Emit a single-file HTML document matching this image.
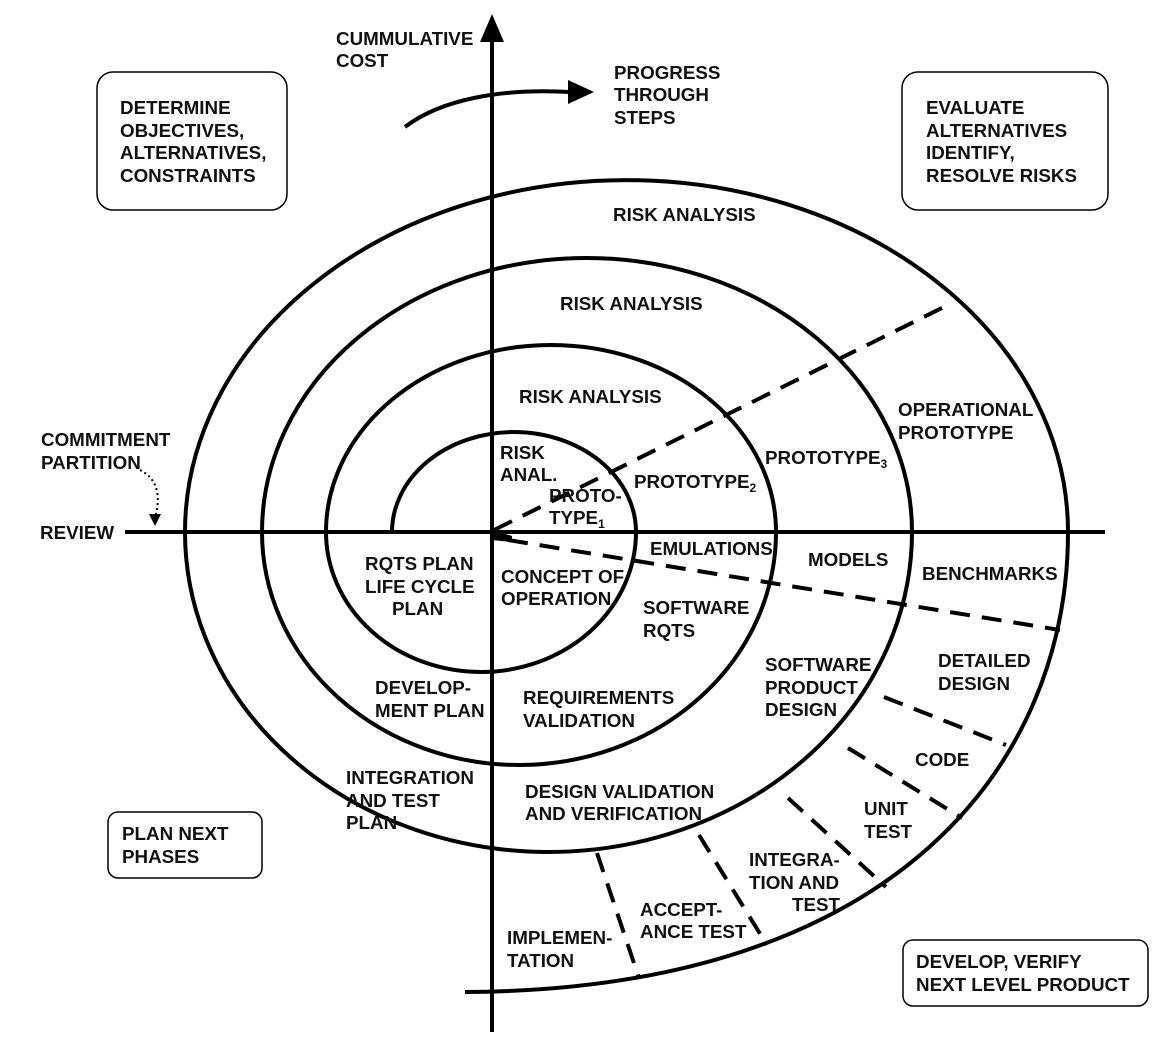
<!DOCTYPE html>
<html><head><meta charset="utf-8"><style>
html,body{margin:0;padding:0;background:#fff;}
svg text{font-family:"Liberation Sans",Arial,sans-serif;font-weight:bold;font-size:18.8px;fill:#111;}
</style></head><body>
<svg width="1172" height="1046" viewBox="0 0 1172 1046" xmlns="http://www.w3.org/2000/svg">
<g fill="none" stroke="#000" stroke-width="4">
<line x1="492" y1="38" x2="492" y2="1032"/>
<line x1="125" y1="532" x2="1105" y2="532"/>
<path d="M392,532 A122,100 0 0 1 636,532 A155,140 0 0 1 326,532 A225,187 0 0 1 776,532 A257,233 0 0 1 262,532 A325,274 0 0 1 912,532 A363.5,320 0 0 1 185,532 A441.5,352 0 0 1 1068,532 C1068,760 900,990 465,992"/>
<path d="M405,127 C440,100 500,88 570,92"/>
</g>
<polygon points="480,42 492,14 504,42" fill="#000"/>
<polygon points="568,80 594,92 568,104" fill="#000"/>
<g fill="none" stroke="#000" stroke-width="4" stroke-dasharray="20,12">
<line x1="494" y1="530" x2="952" y2="303"/>
<line x1="508" y1="540" x2="1060" y2="630"/>
<line x1="884" y1="697" x2="1006" y2="745"/>
<line x1="848" y1="748" x2="962" y2="818"/>
<line x1="788" y1="798" x2="886" y2="887"/>
<line x1="699" y1="835" x2="767" y2="945"/>
<line x1="597" y1="853" x2="639" y2="978"/>
</g>
<polygon points="492,530 512,536 512,542 492,540" fill="#000"/>
<path d="M140,470 C160,480 160,500 155,518" fill="none" stroke="#000" stroke-width="2" stroke-dasharray="2,3"/>
<polygon points="149,514 155,526 161,514" fill="#000"/>
<g fill="none" stroke="#000" stroke-width="1.5">
<rect x="97" y="72" width="190" height="138" rx="16"/>
<rect x="902" y="72" width="206" height="138" rx="16"/>
<rect x="108" y="812" width="154" height="66" rx="10"/>
<rect x="903" y="940" width="245" height="66" rx="10"/>
</g>
<text x="336" y="45">CUMMULATIVE</text><text x="336" y="67">COST</text>
<text x="614" y="79">PROGRESS</text><text x="614" y="101">THROUGH</text><text x="614" y="124">STEPS</text>
<text x="120" y="114">DETERMINE</text><text x="120" y="137">OBJECTIVES,</text><text x="120" y="159">ALTERNATIVES,</text><text x="120" y="182">CONSTRAINTS</text>
<text x="926" y="114">EVALUATE</text><text x="926" y="137">ALTERNATIVES</text><text x="926" y="159">IDENTIFY,</text><text x="926" y="182">RESOLVE RISKS</text>
<text x="613" y="221">RISK ANALYSIS</text>
<text x="560" y="310">RISK ANALYSIS</text>
<text x="519" y="403">RISK ANALYSIS</text>
<text x="500" y="459">RISK</text><text x="500" y="481">ANAL.</text>
<text x="549" y="502">PROTO-</text><text x="549" y="524">TYPE<tspan font-size="12" dy="4">1</tspan></text>
<text x="634" y="488">PROTOTYPE<tspan font-size="12" dy="4">2</tspan></text>
<text x="765" y="464">PROTOTYPE<tspan font-size="12" dy="4">3</tspan></text>
<text x="898" y="416">OPERATIONAL</text><text x="898" y="439">PROTOTYPE</text>
<text x="41" y="446">COMMITMENT</text><text x="41" y="469">PARTITION</text>
<text x="40" y="539">REVIEW</text>
<text x="650" y="555">EMULATIONS</text>
<text x="808" y="566">MODELS</text>
<text x="922" y="580">BENCHMARKS</text>
<text x="365" y="570">RQTS PLAN</text><text x="365" y="593">LIFE CYCLE</text><text x="392" y="615">PLAN</text>
<text x="501" y="583">CONCEPT OF</text><text x="501" y="605">OPERATION</text>
<text x="643" y="614">SOFTWARE</text><text x="643" y="637">RQTS</text>
<text x="938" y="667">DETAILED</text><text x="938" y="690">DESIGN</text>
<text x="765" y="671">SOFTWARE</text><text x="765" y="694">PRODUCT</text><text x="765" y="716">DESIGN</text>
<text x="375" y="694">DEVELOP-</text><text x="375" y="717">MENT PLAN</text>
<text x="523" y="704">REQUIREMENTS</text><text x="523" y="727">VALIDATION</text>
<text x="915" y="766">CODE</text>
<text x="346" y="784">INTEGRATION</text><text x="346" y="807">AND TEST</text><text x="346" y="829">PLAN</text>
<text x="525" y="798">DESIGN VALIDATION</text><text x="525" y="820">AND VERIFICATION</text>
<text x="864" y="815">UNIT</text><text x="864" y="838">TEST</text>
<text x="122" y="840">PLAN NEXT</text><text x="122" y="863">PHASES</text>
<text x="749" y="866">INTEGRA-</text><text x="749" y="889">TION AND</text><text x="792" y="911">TEST</text>
<text x="640" y="916">ACCEPT-</text><text x="640" y="938">ANCE TEST</text>
<text x="507" y="944">IMPLEMEN-</text><text x="507" y="967">TATION</text>
<text x="916" y="968">DEVELOP, VERIFY</text><text x="916" y="991">NEXT LEVEL PRODUCT</text>
</svg>
</body></html>
